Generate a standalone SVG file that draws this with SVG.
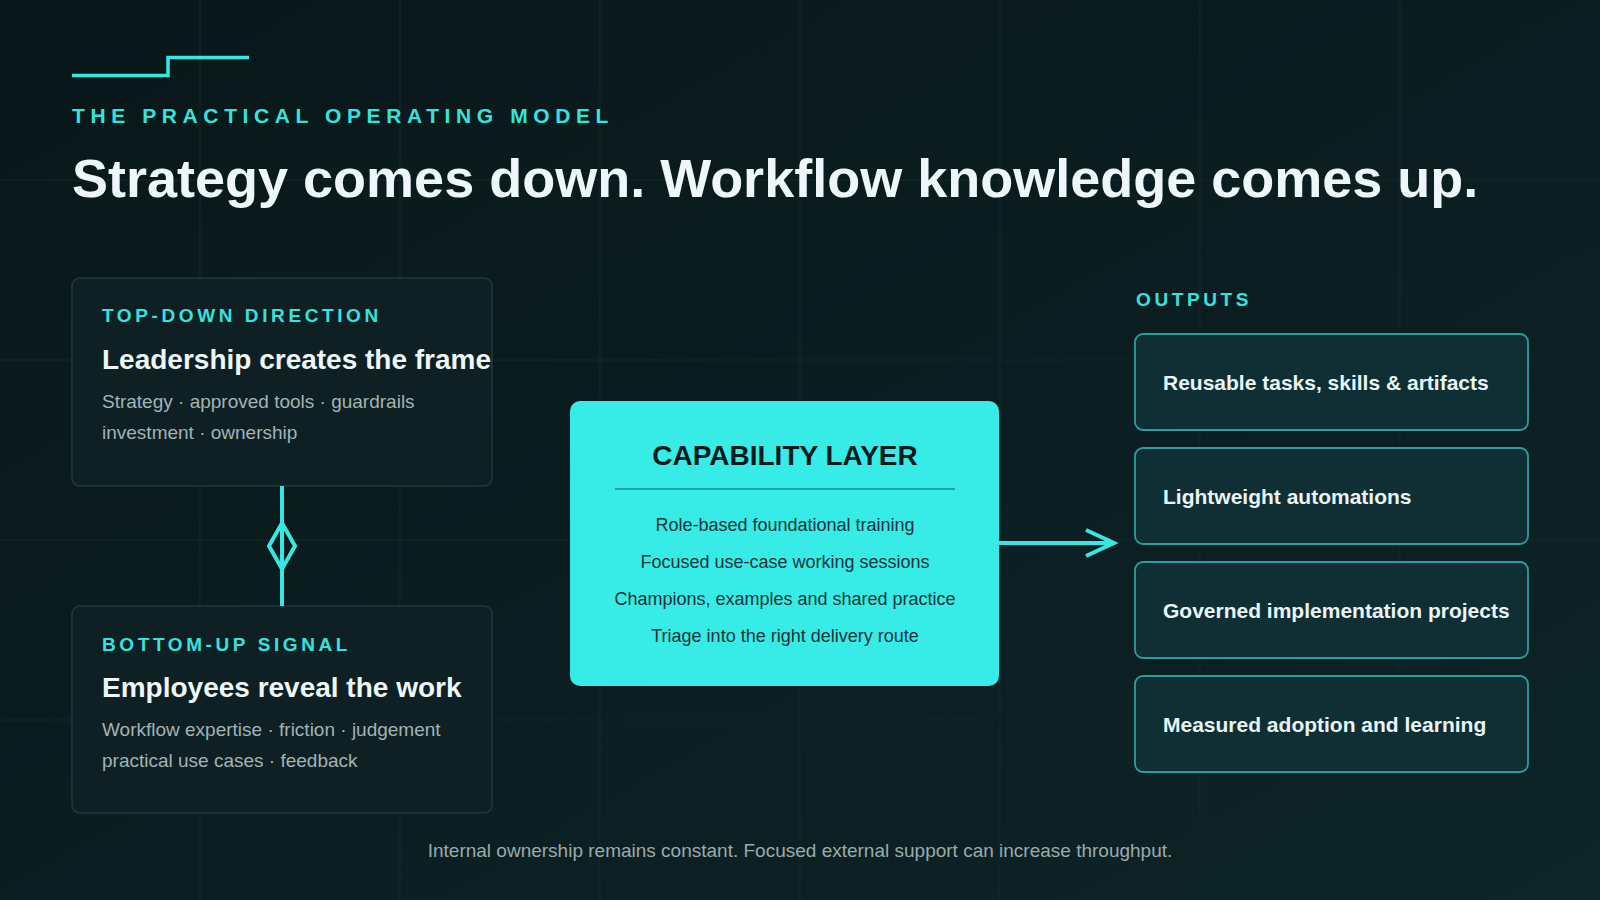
<svg xmlns="http://www.w3.org/2000/svg" width="1600" height="900" viewBox="0 0 1600 900">
  <defs>
    <linearGradient id="bg" x1="0" y1="0" x2="1" y2="1">
      <stop offset="0" stop-color="#09171a"/>
      <stop offset="0.5" stop-color="#0b1d20"/>
      <stop offset="1" stop-color="#0e2428"/>
    </linearGradient>
    <style>
      .grid { stroke: #12282b; stroke-width: 1.2; }
      .eyebrow { font-family: "Liberation Sans", Arial, sans-serif; font-weight: 700; fill: #35e3dc; }
      .card { fill: #0e2024; stroke: #1e3a3d; stroke-width: 1.5; }
      .cardTitle { font-family: "Liberation Sans", Arial, sans-serif; font-weight: 700; font-size: 28px; fill: #eef7f7; }
      .cardBody { font-family: "Liberation Sans", Arial, sans-serif; font-size: 19px; fill: #a3b3b4; }
      .out { fill: #102f34; stroke: #2a9e9c; stroke-width: 1.8; }
      .outText { font-family: "Liberation Sans", Arial, sans-serif; font-weight: 700; font-size: 21px; fill: #e9f5f5; }
      .capText { font-family: "Liberation Sans", Arial, sans-serif; font-size: 18px; fill: #143436; text-anchor: middle; }
      .conn { stroke: #37e8e1; stroke-width: 4; fill: none; }
    </style>
  </defs>

  <rect width="1600" height="900" fill="url(#bg)"/>
  <g id="grid">
    <line class="grid" x1="200" y1="0" x2="200" y2="900"/>
    <line class="grid" x1="400" y1="0" x2="400" y2="900"/>
    <line class="grid" x1="600" y1="0" x2="600" y2="900"/>
    <line class="grid" x1="800" y1="0" x2="800" y2="900"/>
    <line class="grid" x1="1000" y1="0" x2="1000" y2="900"/>
    <line class="grid" x1="1200" y1="0" x2="1200" y2="900"/>
    <line class="grid" x1="1400" y1="0" x2="1400" y2="900"/>
    <line class="grid" x1="0" y1="180" x2="1600" y2="180"/>
    <line class="grid" x1="0" y1="360" x2="1600" y2="360"/>
    <line class="grid" x1="0" y1="540" x2="1600" y2="540"/>
    <line class="grid" x1="0" y1="720" x2="1600" y2="720"/>
  </g>

  <g id="header">
    <polyline points="72,75.5 168,75.5 168,57.5 249,57.5" fill="none" stroke="#37e8e1" stroke-width="3.5"/>
    <text class="eyebrow" x="72" y="123" font-size="21" letter-spacing="5.6">THE PRACTICAL OPERATING MODEL</text>
    <text x="72" y="197" font-family="Liberation Sans, Arial, sans-serif" font-weight="700" font-size="54" fill="#eef7f7">Strategy comes down. Workflow knowledge comes up.</text>
  </g>

  <g id="top-down">
    <rect class="card" x="72" y="278" width="420" height="208" rx="8"/>
    <text class="eyebrow" x="102" y="322" font-size="19" letter-spacing="3.6">TOP-DOWN DIRECTION</text>
    <text class="cardTitle" x="102" y="369">Leadership creates the frame</text>
    <text class="cardBody" x="102" y="408">Strategy · approved tools · guardrails</text>
    <text class="cardBody" x="102" y="439">investment · ownership</text>
  </g>

  <g id="bottom-up">
    <rect class="card" x="72" y="606" width="420" height="207" rx="8"/>
    <text class="eyebrow" x="102" y="651" font-size="19" letter-spacing="3.6">BOTTOM-UP SIGNAL</text>
    <text class="cardTitle" x="102" y="697">Employees reveal the work</text>
    <text class="cardBody" x="102" y="736">Workflow expertise · friction · judgement</text>
    <text class="cardBody" x="102" y="767">practical use cases · feedback</text>
  </g>

  <g id="capability">
    <rect x="570" y="401" width="429" height="285" rx="10" fill="#37ece6"/>
    <text x="785" y="465" text-anchor="middle" font-family="Liberation Sans, Arial, sans-serif" font-weight="700" font-size="28" fill="#0b1b1d">CAPABILITY LAYER</text>
    <line x1="615" y1="489" x2="955" y2="489" stroke="#1ea5a3" stroke-width="2"/>
    <text class="capText" x="785" y="531">Role-based foundational training</text>
    <text class="capText" x="785" y="568">Focused use-case working sessions</text>
    <text class="capText" x="785" y="605">Champions, examples and shared practice</text>
    <text class="capText" x="785" y="642">Triage into the right delivery route</text>
  </g>

  <g id="outputs-label">
    <text class="eyebrow" x="1136" y="306" font-size="19" letter-spacing="3.6">OUTPUTS</text>
  </g>
  <g id="out1">
    <rect class="out" x="1135" y="334" width="393" height="96" rx="8"/>
    <text class="outText" x="1163" y="390">Reusable tasks, skills &amp; artifacts</text>
  </g>
  <g id="out2">
    <rect class="out" x="1135" y="448" width="393" height="96" rx="8"/>
    <text class="outText" x="1163" y="504">Lightweight automations</text>
  </g>
  <g id="out3">
    <rect class="out" x="1135" y="562" width="393" height="96" rx="8"/>
    <text class="outText" x="1163" y="618">Governed implementation projects</text>
  </g>
  <g id="out4">
    <rect class="out" x="1135" y="676" width="393" height="96" rx="8"/>
    <text class="outText" x="1163" y="732">Measured adoption and learning</text>
  </g>

  <g id="connectors">
    <line class="conn" x1="282" y1="486" x2="282" y2="606"/>
    <polygon class="conn" points="282,523 295,546 282,569 269,546"/>
    <line class="conn" x1="999" y1="543" x2="1113" y2="543"/>
    <polyline class="conn" points="1086,530 1114,543 1086,556"/>
  </g>

  <g id="footer">
    <text x="800" y="857" text-anchor="middle" font-family="Liberation Sans, Arial, sans-serif" font-size="19" fill="#9aabac">Internal ownership remains constant. Focused external support can increase throughput.</text>
  </g>
</svg>
